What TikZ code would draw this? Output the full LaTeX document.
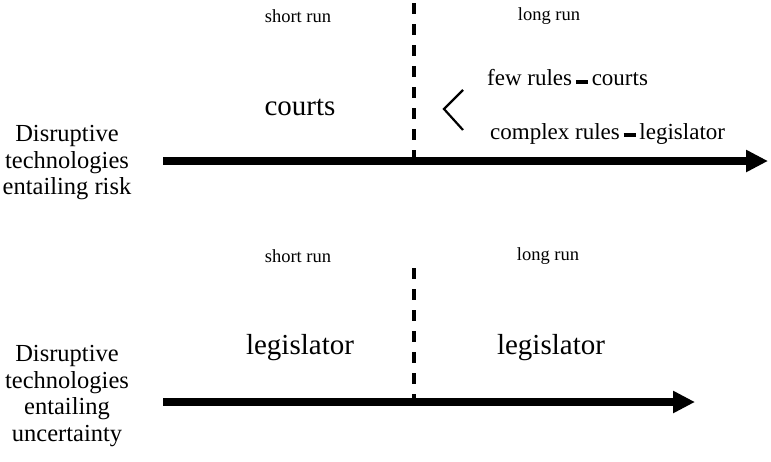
\documentclass[tikz,border=0pt]{standalone}
\usepackage{fontspec}
\setmainfont{Liberation Serif}
\usetikzlibrary{arrows.meta}
\tikzset{
  axisline/.style={line width=7.5pt,-{Triangle[length=22pt,width=21pt]}},
  divider/.style={line width=3.2pt,dash pattern=on 11pt off 10pt},
  runlabel/.style={font=\fontsize{18.5}{20}\selectfont,inner sep=0pt},
  bigtext/.style={font=\fontsize{29}{32}\selectfont,inner sep=0pt},
  midtext/.style={font=\fontsize{23}{26}\selectfont,inner sep=0pt,anchor=west},
  sidetext/.style={font=\fontsize{24.5}{26.5}\selectfont,inner sep=0pt,align=center},
}
\newcommand{\minibar}{\,\rule[0.22ex]{0.52em}{0.18em}\,}
\begin{document}
\begin{tikzpicture}[x=1pt,y=-1pt]
\useasboundingbox (0,0) rectangle (771,461);
% top section
\coordinate (ta) at (163,161);
\coordinate (tb) at (768,161);
\coordinate (td1) at (414,3);
\coordinate (td2) at (414,161);
\draw[divider] (td1) -- (td2);
\draw[axisline] (ta) -- (tb);
\node[runlabel] (tsr) at (298,16) {short run};
\node[runlabel] (tlr) at (549,16) {long run};
\node[bigtext] (tcourts) at (300,107) {courts};
\node[sidetext] (tside) at (67,163) {Disruptive\\technologies\\entailing risk};
\coordinate (b1) at (463,90);
\coordinate (b2) at (444,109);
\coordinate (b3) at (463,130);
\draw[line width=2.2pt] (b1) -- (b2) -- (b3);
\node[midtext] (few) at (487,78) {few rules\minibar courts};
\node[midtext] (complex) at (490,134) {complex rules\minibar legislator};
% bottom section
\coordinate (ba) at (163,402);
\coordinate (bb) at (695,402);
\coordinate (bd1) at (414,268);
\coordinate (bd2) at (414,402);
\draw[divider] (bd1) -- (bd2);
\draw[axisline] (ba) -- (bb);
\node[runlabel] (bsr) at (298,256) {short run};
\node[runlabel] (blr) at (548,256) {long run};
\node[bigtext] (bleg1) at (300,348) {legislator};
\node[bigtext] (bleg2) at (551,348) {legislator};
\node[sidetext] (bside) at (67,396) {Disruptive\\technologies\\entailing\\uncertainty};
\end{tikzpicture}
\end{document}
